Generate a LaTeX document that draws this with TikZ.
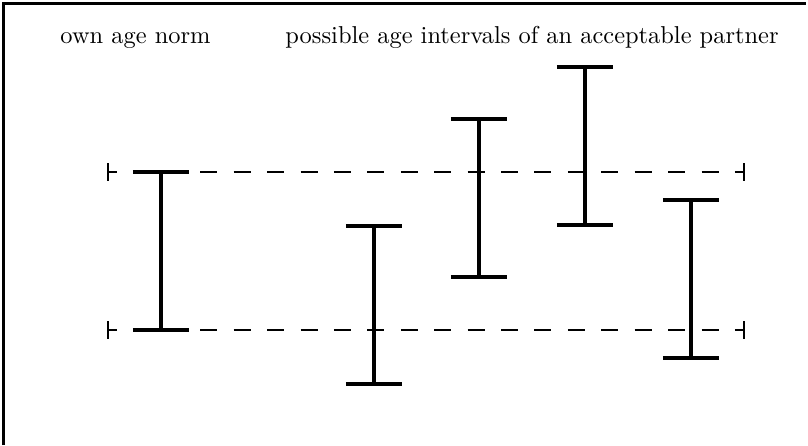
\documentclass[tikz,border=0pt]{standalone}
\begin{document}
\begin{tikzpicture}[x=0.389pt,y=-0.389pt,
  frame/.style={line width=1pt},
  ivline/.style={line width=1.2pt},
  normline/.style={line width=0.8pt,dash pattern=on 6.6pt off 6.4pt,dash phase=3.1pt},
  tickline/.style={line width=0.8pt},
  lab/.style={inner sep=0pt,anchor=base west,scale=0.95}]
\useasboundingbox (0,0) rectangle (808,445);
% frame (left and top edges only)
\coordinate (fbl) at (3.5,445);
\coordinate (ftl) at (3.5,3.5);
\coordinate (ftr) at (806,3.5);
\draw[frame] (fbl) -- (ftl) -- (ftr);
% labels
\node[lab] (own) at (60,44) {own age norm};
\node[lab] (poss) at (285,44) {possible age intervals of an acceptable partner};
% own age norm (dashed limits)
\coordinate (nul) at (108,172);
\coordinate (nur) at (744,172);
\coordinate (nll) at (108,330);
\coordinate (nlr) at (744,330);
\draw[normline] (nul) -- (nur);
\draw[normline] (nll) -- (nlr);
\foreach \c in {nul,nur,nll,nlr}{
  \draw[tickline] ([yshift=3.5pt]\c) -- ([yshift=-3.5pt]\c);
}
% intervals
\foreach \n/\x/\t in {1/161/172, 2/374/226, 3/479/119, 4/585/67, 5/691/200}{
  \pgfmathsetmacro{\b}{\t+158}
  \coordinate (i\n t) at (\x,\t);
  \coordinate (i\n b) at (\x,\b);
  \draw[ivline] (i\n t) -- (i\n b);
  \draw[ivline] ([xshift=-10.9pt]i\n t) -- ([xshift=10.9pt]i\n t);
  \draw[ivline] ([xshift=-10.9pt]i\n b) -- ([xshift=10.9pt]i\n b);
}
\end{tikzpicture}
\end{document}
